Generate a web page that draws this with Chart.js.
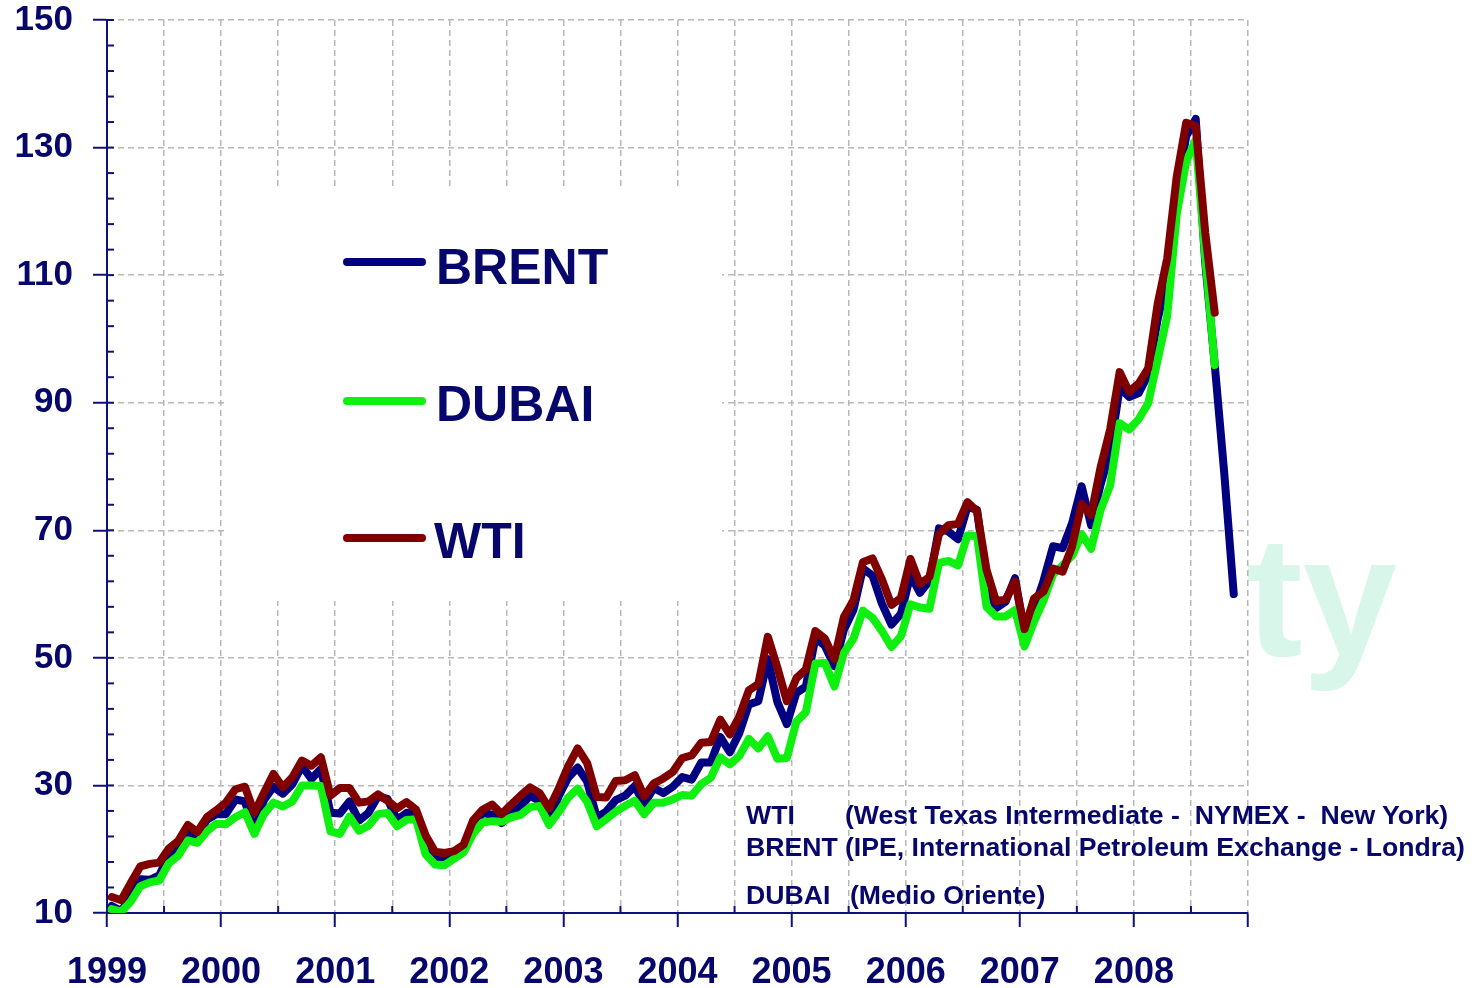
<!DOCTYPE html>
<html lang="it">

<head>
    <meta charset="UTF-8">
    <title>Prezzi del petrolio 1999-2008</title>
    <script src="https://cdn.jsdelivr.net/npm/chart.js@4.4.0/dist/chart.umd.min.js"></script>
    <style>
        body { margin: 0; background: #ffffff; }
        #wrap { position: relative; width: 1481px; height: 988px; overflow: hidden; background: #ffffff; font-family: "Liberation Sans", Arial, sans-serif; font-weight: bold; color: #07076b; }
        #oilChart { position: absolute; left: 0; top: 0; z-index: 1; }
        .mark { position: absolute; z-index: 0; color: #d9f6ea; font-size: 170px; line-height: 1; }
        .box { position: absolute; z-index: 2; background: #ffffff; }
        .swatch { position: absolute; z-index: 3; height: 8px; border-radius: 4px; }
        .lab { position: absolute; z-index: 3; line-height: 1; white-space: pre; }
        .note { font-size: 25px; transform: scaleX(1.065); transform-origin: left center; }
    </style>
</head>

<body>
    <div id="wrap">
        <div class="mark" style="left:1246px; top:512px;">ty</div>
        <canvas id="oilChart" width="1481" height="988"></canvas>

        <!-- legend -->
        <div class="box" style="left:226px; top:188px; width:496px; height:413px;"></div>
        <div class="swatch" style="left:343px; top:258px; width:83px; background:#000080;"></div>
        <div class="swatch" style="left:343px; top:397px; width:83px; background:#10f010;"></div>
        <div class="swatch" style="left:343px; top:534px; width:83px; background:#800000;"></div>
        <div class="lab" style="left:436px; top:242px; font-size:50px;">BRENT</div>
        <div class="lab" style="left:436px; top:379px; font-size:50px;">DUBAI</div>
        <div class="lab" style="left:434px; top:516px; font-size:50px;">WTI</div>

        <!-- notes -->
        <div class="lab note" style="left:746px; top:803px;">WTI</div>
        <div class="lab note" style="left:845px; top:803px;">(West Texas Intermediate -  NYMEX -  New York)</div>
        <div class="lab note" style="left:746px; top:835px;">BRENT</div>
        <div class="lab note" style="left:845px; top:835px;">(IPE, International Petroleum Exchange - Londra)</div>
        <div class="lab note" style="left:746px; top:883px;">DUBAI</div>
        <div class="lab note" style="left:850px; top:883px;">(Medio Oriente)</div>
    </div>

    <script>
        // monthly averages, $/barrel, starting January 1999
        const years = [1999, 2000, 2001, 2002, 2003, 2004, 2005, 2006, 2007, 2008];
        const yLabels = [10, 30, 50, 70, 90, 110, 130, 150];

        const brent = [
            11.1, 10.3, 12.5, 15.3, 15.2, 15.9, 19.1, 20.3, 22.5, 22.0, 24.6, 25.5,
            25.5, 27.8, 27.5, 22.8, 27.7, 29.8, 28.7, 30.2, 33.1, 31.0, 32.6, 25.7,
            25.6, 27.5, 24.5, 25.7, 28.3, 27.9, 24.6, 25.7, 25.6, 20.5, 18.8, 18.7,
            19.4, 20.3, 23.7, 25.7, 25.4, 24.1, 25.7, 26.7, 28.4, 27.5, 24.3, 28.3,
            31.2, 32.8, 30.6, 25.0, 25.9, 27.7, 28.4, 29.9, 27.1, 29.6, 28.8, 29.8,
            31.3, 30.9, 33.6, 33.6, 37.6, 35.2, 38.2, 42.7, 43.2, 49.8, 43.1, 39.6,
            44.5, 45.5, 53.1, 51.9, 48.7, 54.4, 57.5, 64.0, 62.9, 58.5, 55.2, 56.9,
            63.0, 60.2, 62.1, 70.3, 69.8, 68.6, 73.7, 73.2, 62.0, 57.8, 58.8, 62.5,
            53.7, 57.6, 62.1, 67.5, 67.2, 71.1, 76.9, 70.8, 77.2, 82.3, 92.4, 90.9,
            91.5, 94.4, 103.1, 109.4, 122.6, 131.8, 134.5, 112.0, 96.0, 79.0, 60.0
        ];

        const dubai = [
            10.6, 10.2, 11.8, 14.2, 14.8, 15.1, 17.8, 19.0, 21.4, 21.0, 22.8, 24.0,
            23.9, 25.0, 25.8, 22.4, 25.5, 27.3, 26.7, 27.5, 30.0, 30.0, 29.9, 22.8,
            22.4, 25.1, 22.9, 23.7, 25.5, 25.7, 23.6, 24.6, 24.7, 19.2, 17.6, 17.5,
            18.5, 19.5, 22.4, 24.2, 24.4, 24.3, 25.0, 25.4, 26.6, 26.8, 23.8, 25.8,
            28.1, 29.5, 27.4, 23.6, 24.7, 25.9, 26.8, 27.6, 25.5, 27.3, 27.3, 27.8,
            28.5, 28.4, 30.2, 31.2, 34.4, 33.3, 34.6, 37.3, 35.8, 37.7, 34.2, 34.3,
            40.0, 41.5, 49.1, 49.2, 45.5, 50.8, 53.0, 57.4, 56.3, 54.2, 51.7, 53.4,
            58.4, 57.9, 57.7, 64.9, 65.2, 64.5, 69.2, 69.1, 58.0, 56.5, 56.5, 57.5,
            51.8, 55.7, 59.0, 63.1, 64.5, 66.0, 69.4, 67.1, 73.2, 77.0, 86.8, 85.8,
            87.4, 89.9, 96.7, 103.6, 119.5, 127.8, 131.2, 112.9, 95.9
        ];

        const wti = [
            12.5, 12.0, 14.7, 17.3, 17.7, 17.9, 20.1, 21.3, 23.8, 22.7, 25.0, 26.1,
            27.3, 29.4, 29.8, 25.7, 28.8, 31.8, 29.7, 31.3, 33.9, 33.1, 34.4, 28.4,
            29.6, 29.6, 27.3, 27.5, 28.6, 27.6, 26.4, 27.4, 26.2, 22.2, 19.6, 19.4,
            19.7, 20.7, 24.5, 26.2, 27.0, 25.5, 27.0, 28.4, 29.7, 28.8, 26.4, 29.5,
            33.0, 35.8, 33.5, 28.2, 28.1, 30.7, 30.8, 31.6, 28.3, 30.3, 31.1, 32.1,
            34.3, 34.7, 36.7, 36.8, 40.3, 38.0, 40.8, 44.9, 45.9, 53.3, 48.5, 43.2,
            46.8, 48.2, 54.2, 53.0, 49.8, 56.4, 59.0, 65.0, 65.6, 62.3, 58.3, 59.4,
            65.5, 61.6, 62.7, 69.4, 70.8, 71.0, 74.4, 73.0, 63.8, 58.9, 59.1, 62.0,
            54.5, 59.3, 60.4, 64.0, 63.5, 67.5, 74.1, 72.4, 79.9, 85.8, 94.8, 91.7,
            93.0, 95.4, 105.5, 112.6, 125.4, 133.9, 133.4, 116.7, 104.1
        ];

        const labelColor = '#07076b';
        const axisColor = '#10107a';
        const gridColor = '#b8b8b8';
        const noColor = 'rgba(0,0,0,0)';
        const fontFamily = '"Liberation Sans", Arial, sans-serif';

        // month index -> point, plotted in the middle of the month
        function toPoints(values) {
            return values.map((v, i) => ({ x: i + 0.5, y: v }));
        }

        // small ticks on the inner side of both axes
        const innerTicks = {
            id: 'innerTicks',
            beforeDatasetsDraw(chart) {
                const { ctx, chartArea, scales } = chart;
                ctx.save();
                ctx.strokeStyle = axisColor;
                ctx.lineWidth = 2;
                scales.y.ticks.forEach(t => {
                    const py = scales.y.getPixelForValue(t.value);
                    ctx.beginPath();
                    ctx.moveTo(chartArea.left, py);
                    ctx.lineTo(chartArea.left + 7, py);
                    ctx.stroke();
                });
                scales.x.ticks.forEach(t => {
                    if (t.value % 12 !== 0) {
                        const px = scales.x.getPixelForValue(t.value);
                        ctx.beginPath();
                        ctx.moveTo(px, chartArea.bottom);
                        ctx.lineTo(px, chartArea.bottom - 7);
                        ctx.stroke();
                    }
                });
                ctx.restore();
            }
        };

        const ctx = document.getElementById('oilChart').getContext('2d');
        const chart = new Chart(ctx, {
            type: 'line',
            data: {
                datasets: [
                    { label: 'WTI', data: toPoints(wti), borderColor: '#800000', order: 0 },
                    { label: 'DUBAI', data: toPoints(dubai), borderColor: '#10f010', order: 1 },
                    { label: 'BRENT', data: toPoints(brent), borderColor: '#000080', order: 2 }
                ]
            },
            options: {
                responsive: false,
                animation: false,
                layout: { padding: { top: 0, right: 233, left: 0, bottom: 0 } },
                plugins: {
                    legend: { display: false },
                    tooltip: { enabled: false }
                },
                elements: {
                    point: { radius: 0 },
                    line: { tension: 0, borderWidth: 8, borderCapStyle: 'round', borderJoinStyle: 'round' }
                },
                scales: {
                    x: {
                        type: 'linear',
                        min: 0,
                        max: 120,
                        afterFit(scale) { scale.height = 75; },
                        border: { color: axisColor, width: 2, dash: [6, 4] },
                        grid: {
                            color: c => c.tick && c.tick.value === 0 ? noColor : gridColor,
                            lineWidth: 1.5,
                            tickLength: 14,
                            tickWidth: 2,
                            tickColor: c => c.tick && c.tick.value % 12 === 0 ? axisColor : noColor
                        },
                        ticks: {
                            stepSize: 6,
                            autoSkip: false,
                            maxRotation: 0,
                            padding: 24,
                            color: labelColor,
                            font: { family: fontFamily, size: 36, weight: 'bold' },
                            callback: v => (v % 12 === 0 && v / 12 < years.length) ? String(years[v / 12]) : ''
                        }
                    },
                    y: {
                        min: 10,
                        max: 150,
                        afterFit(scale) {
                            scale.width = 107;
                            scale.paddingTop = 20;
                            scale.paddingBottom = 0;
                        },
                        border: { color: axisColor, width: 2, dash: [6, 4] },
                        grid: {
                            color: c => c.tick && yLabels.includes(c.tick.value) && c.tick.value !== 10 ? gridColor : noColor,
                            lineWidth: 1.5,
                            tickLength: 14,
                            tickWidth: 2,
                            tickColor: c => c.tick && yLabels.includes(c.tick.value) ? axisColor : noColor
                        },
                        ticks: {
                            stepSize: 4,
                            autoSkip: false,
                            padding: 20,
                            color: labelColor,
                            font: { family: fontFamily, size: 35, weight: 'bold' },
                            callback: v => yLabels.includes(v) ? String(v) : ''
                        }
                    }
                }
            },
            plugins: [innerTicks]
        });
    </script>
</body>

</html>
